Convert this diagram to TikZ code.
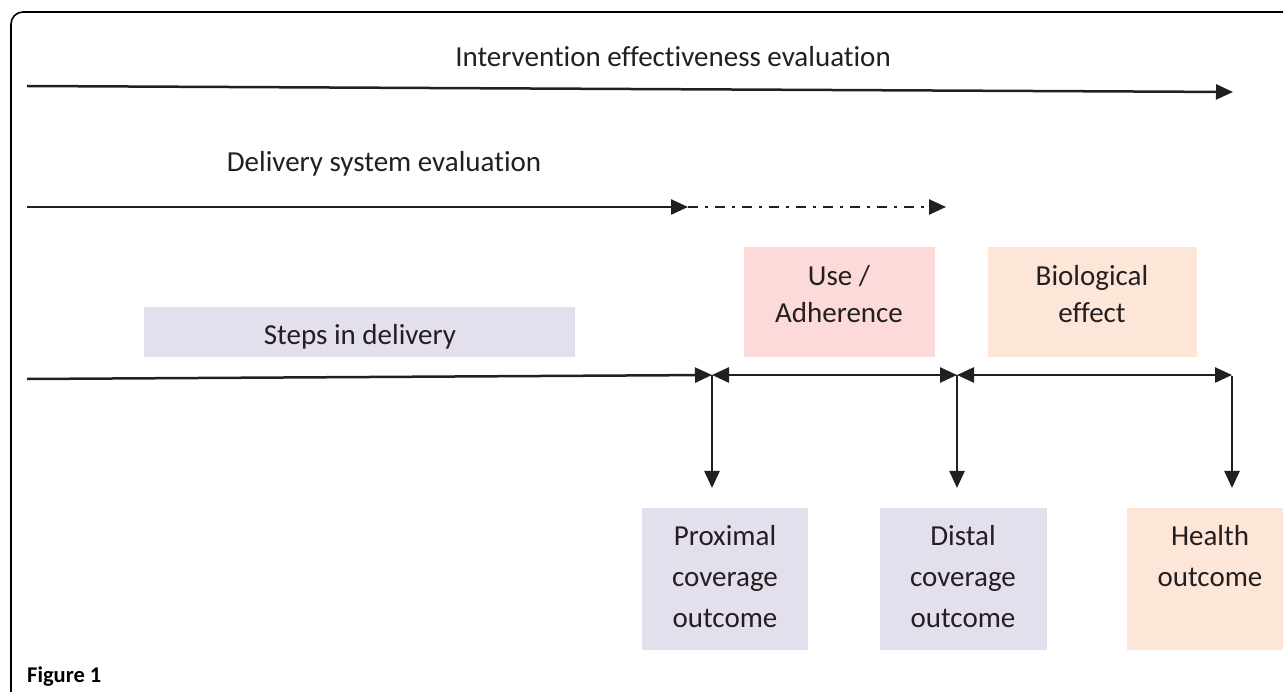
\documentclass[tikz,border=0pt]{standalone}
\usepackage{fontspec}
\setmainfont[Ligatures=NoCommon]{Carlito}
\usetikzlibrary{arrows.meta}
\definecolor{txt}{HTML}{231F20}
\definecolor{lav}{HTML}{E4DFEC}
\definecolor{pnk}{HTML}{FCDADA}
\definecolor{pch}{HTML}{FDE5D8}
\tikzset{
  conn/.style={line width=2.5pt, draw=txt, -{Triangle[length=17pt,width=15pt]}},
  dconn/.style={line width=2.5pt, draw=txt, {Triangle[length=17pt,width=15pt]}-{Triangle[length=17pt,width=15pt]}},
  dashdot/.style={line width=2.5pt, draw=txt, dash pattern=on 10pt off 7pt on 3pt off 7pt, -{Triangle[length=17pt,width=15pt]}},
  box/.style={rectangle, inner sep=0pt, anchor=north west},
  lbl/.style={text=txt, font=\fontsize{29}{37}\selectfont, align=center, inner sep=0pt},
}
\begin{document}
\begin{tikzpicture}[x=1pt,y=-1pt]
\useasboundingbox (0,0) rectangle (1283,692);
% frame
\draw[line width=1.6pt, rounded corners=12pt] (11,720) -- (11,12) -- (1310,12);
% titles
\node[lbl, anchor=base] (t1) at (673,67) {Intervention effectiveness evaluation};
\coordinate (a1s) at (27,86);
\coordinate (a1e) at (1233,92);
\draw[conn] (a1s) -- (a1e);
\node[lbl, anchor=base] (t2) at (384,172) {Delivery system evaluation};
\coordinate (a2s) at (27,207);
\coordinate (a2m) at (688,207);
\coordinate (a2e) at (946,207);
\draw[conn] (a2s) -- (a2m);
\draw[dashdot] (a2m) -- (a2e);
% upper boxes
\node[box, fill=lav, minimum width=431pt, minimum height=50pt] (steps) at (144,307) {};
\node[lbl, anchor=base] (stepst) at (360,345) {Steps in delivery};
\node[box, fill=pnk, minimum width=191pt, minimum height=110pt] (use) at (744,247) {};
\node[lbl, anchor=north] (uset) at (839,265) {Use /\\Adherence};
\node[box, fill=pch, minimum width=209pt, minimum height=110pt] (bio) at (988,247) {};
\node[lbl, anchor=north] (biot) at (1092,265) {Biological\\effect};
% main line
\coordinate (s) at (27,379);
\coordinate (j1) at (712,375);
\coordinate (j2) at (957,375);
\coordinate (j3) at (1232,375);
\draw[conn] (s) -- (j1);
\draw[dconn] (j1) -- (j2);
\draw[dconn] (j2) -- (j3);
\coordinate (d1) at (712,488);
\coordinate (d2) at (957,488);
\coordinate (d3) at (1232,488);
\draw[conn] (j1) -- (d1);
\draw[conn] (j2) -- (d2);
\draw[conn] ([yshift=-1.2pt]j3) -- (d3);
% lower boxes
\node[box, fill=lav, minimum width=166pt, minimum height=142pt] (prox) at (642,508) {};
\node[lbl, anchor=north, font=\fontsize{29}{41}\selectfont] (proxt) at (725,525) {Proximal\\coverage\\outcome};
\node[box, fill=lav, minimum width=167pt, minimum height=142pt] (dist) at (880,508) {};
\node[lbl, anchor=north, font=\fontsize{29}{41}\selectfont] (distt) at (963,525) {Distal\\coverage\\outcome};
\node[box, fill=pch, minimum width=170pt, minimum height=142pt] (hlth) at (1127,508) {};
\node[lbl, anchor=north, font=\fontsize{29}{41}\selectfont] (hltht) at (1210,525) {Health\\outcome};
% caption
\node[anchor=base west, inner sep=0pt, font=\fontsize{22.5}{26}\selectfont\bfseries, text=black] (fig) at (27,682) {Figure 1};
\end{tikzpicture}
\end{document}
